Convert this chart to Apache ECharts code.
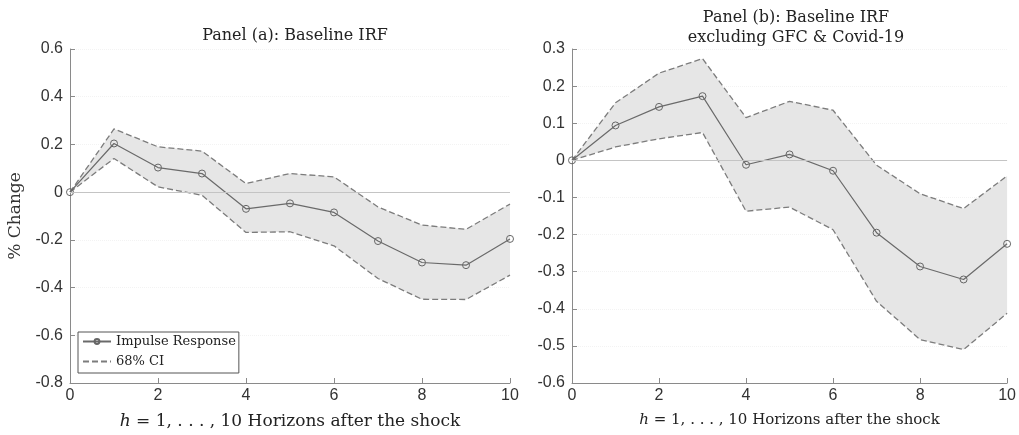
<!DOCTYPE html>
<html>
<head>
<meta charset="utf-8">
<script src="https://cdn.jsdelivr.net/npm/echarts@6/dist/echarts.min.js"></script>
<style>
  html, body { margin: 0; padding: 0; background: #fff; }
  #chart { width: 1019px; height: 435px; }
</style>
</head>
<body>
<div id="chart"></div>
<script>
// Horizons after the shock
const horizons = [0, 1, 2, 3, 4, 5, 6, 7, 8, 9, 10];

// Panel (a): baseline impulse response and 68% band
const irfA   = [0, 0.204, 0.103, 0.078, -0.070, -0.047, -0.085, -0.205, -0.295, -0.306, -0.196];
const upperA = [0, 0.265, 0.190, 0.172, 0.036, 0.078, 0.064, -0.062, -0.138, -0.156, -0.050];
const lowerA = [0, 0.141, 0.022, -0.013, -0.169, -0.166, -0.225, -0.362, -0.449, -0.450, -0.348];

// Panel (b): excluding GFC & Covid-19
const irfB   = [0, 0.094, 0.144, 0.173, -0.012, 0.016, -0.028, -0.195, -0.286, -0.321, -0.225];
const upperB = [0, 0.155, 0.235, 0.274, 0.115, 0.159, 0.135, -0.013, -0.090, -0.130, -0.042];
const lowerB = [0, 0.036, 0.058, 0.075, -0.137, -0.126, -0.187, -0.380, -0.483, -0.510, -0.412];

const titleA = 'Panel (a): Baseline IRF';
const titleB = 'Panel (b): Baseline IRF\nexcluding GFC & Covid-19';
const yNameA = '% Change';

const SERIF = '"DejaVu Serif", "Liberation Serif", serif';
const SANS = '"Liberation Sans", Arial, sans-serif';

const pairs = (ys) => horizons.map((h, i) => [h, ys[i]]);

function xAxisFor(gridIndex, nameSize) {
  return {
    type: 'value', gridIndex, min: 0, max: 10, interval: 2,
    name: '{i|h} = 1, . . . , 10 Horizons after the shock',
    nameLocation: 'middle', nameGap: 30,
    nameTextStyle: {
      fontFamily: SERIF, fontSize: nameSize, color: '#222',
      rich: { i: { fontFamily: SERIF, fontStyle: 'italic', fontSize: nameSize, color: '#222' } }
    },
    axisLine: { show: true, onZero: false, lineStyle: { color: '#8a8a8a', width: 1 } },
    axisTick: { show: true, inside: true, length: 5, lineStyle: { color: '#8a8a8a' } },
    axisLabel: { fontFamily: SANS, fontSize: 16, color: '#333', margin: 5 },
    splitLine: { show: false }
  };
}

function yAxisFor(gridIndex, min, max, interval, withName) {
  return {
    type: 'value', gridIndex, min, max, interval,
    name: withName ? yNameA : '',
    nameLocation: 'middle', nameGap: 46, nameRotate: 90,
    nameTextStyle: { fontFamily: SERIF, fontSize: 17, color: '#333' },
    axisLine: { show: true, lineStyle: { color: '#8a8a8a', width: 1 } },
    axisTick: { show: true, inside: true, length: 5, lineStyle: { color: '#8a8a8a' } },
    axisLabel: {
      fontFamily: SANS, fontSize: 16, color: '#333', margin: 7,
      formatter: (v) => String(Math.round(v * 10) / 10)
    },
    splitLine: { show: true, lineStyle: { color: '#f3f3f3', type: 'dotted' } }
  };
}

// Shaded confidence band as one polygon through the upper then lower bounds
function bandSeries(idx, upper, lower) {
  return {
    type: 'custom', name: 'band-' + idx, xAxisIndex: idx, yAxisIndex: idx,
    silent: true, animation: false, z: 1,
    data: horizons.map((h, i) => [h, lower[i], upper[i]]),
    encode: { x: 0, y: [1, 2] },
    renderItem: function (params, api) {
      if (params.dataIndex !== 0) return null;
      const pts = [];
      for (let i = 0; i < horizons.length; i++) pts.push(api.coord([horizons[i], upper[i]]));
      for (let i = horizons.length - 1; i >= 0; i--) pts.push(api.coord([horizons[i], lower[i]]));
      return {
        type: 'polygon',
        shape: { points: pts },
        style: { fill: '#e6e6e6', stroke: null }
      };
    }
  };
}

const dashStyle = { color: '#7c7c7c', width: 1.3, type: [6, 3] };

function panelSeries(idx, irf, upper, lower) {
  const base = { xAxisIndex: idx, yAxisIndex: idx, type: 'line', silent: true, animation: false };
  return [
    bandSeries(idx, upper, lower),
    Object.assign({}, base, {
      name: '68% CI', data: pairs(upper), symbol: 'none',
      lineStyle: dashStyle, itemStyle: { color: '#7c7c7c' }, z: 3,
      markLine: {
        silent: true, symbol: 'none', label: { show: false },
        lineStyle: { color: '#c4c4c4', width: 1, type: 'solid' },
        data: [{ yAxis: 0 }]
      }
    }),
    Object.assign({}, base, {
      name: '68% CI', data: pairs(lower), symbol: 'none',
      lineStyle: dashStyle, itemStyle: { color: '#7c7c7c' }, z: 3
    }),
    Object.assign({}, base, {
      name: 'Impulse Response', data: pairs(irf),
      symbol: 'circle', symbolSize: 7, showSymbol: true,
      lineStyle: { color: '#6a6a6a', width: 1.2 },
      itemStyle: { color: 'rgba(255,255,255,0)', borderColor: '#666', borderWidth: 1 },
      z: 4
    })
  ];
}

const chart = echarts.init(document.getElementById('chart'), null, { renderer: 'canvas' });

chart.setOption({
  backgroundColor: '#fff',
  animation: false,
  title: [
    {
      text: titleA, left: 290, top: 23, textAlign: 'center',
      textStyle: { fontFamily: SERIF, fontSize: 16, fontWeight: 'normal', color: '#222' }
    },
    {
      text: titleB, left: 791, top: 3, textAlign: 'center',
      textStyle: { fontFamily: SERIF, fontSize: 16, fontWeight: 'normal', color: '#222', lineHeight: 20 }
    }
  ],
  grid: [
    { left: 70, top: 49, width: 440, height: 334 },
    { left: 572, top: 49, width: 439, height: 334 }
  ],
  xAxis: [xAxisFor(0, 17), xAxisFor(1, 15)],
  yAxis: [yAxisFor(0, -0.8, 0.6, 0.2, true), yAxisFor(1, -0.6, 0.3, 0.1, false)],
  legend: {
    data: [
      { name: 'Impulse Response' },
      { name: '68% CI', itemStyle: { color: 'rgba(0,0,0,0)', borderColor: 'rgba(0,0,0,0)', opacity: 0 } }
    ],
    orient: 'vertical', left: 78, top: 332,
    backgroundColor: '#fff', borderColor: '#555', borderWidth: 1,
    padding: [3, 3, 5, 4], itemGap: 7, itemWidth: 28, itemHeight: 6,
    textStyle: { fontFamily: SERIF, fontSize: 13, color: '#222' },
    selectedMode: false
  },
  series: [].concat(
    panelSeries(0, irfA, upperA, lowerA),
    panelSeries(1, irfB, upperB, lowerB)
  )
});
</script>
</body>
</html>
